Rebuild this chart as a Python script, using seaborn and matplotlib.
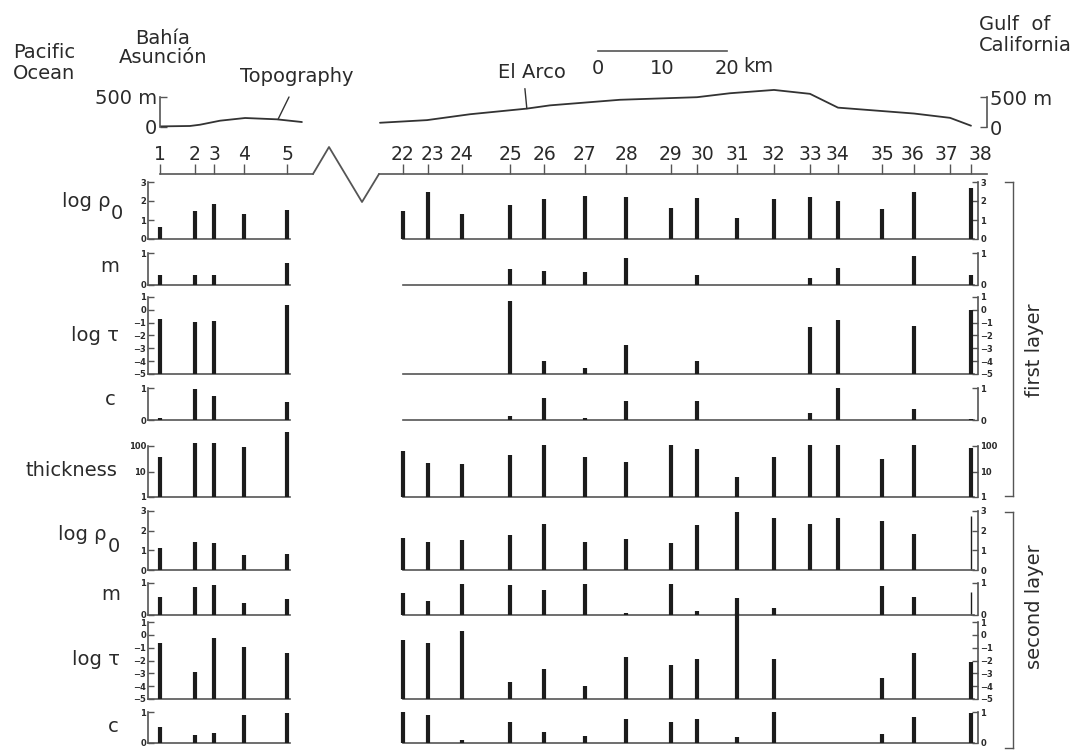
import numpy as np
import matplotlib
matplotlib.use("Agg")
import matplotlib.pyplot as plt
from matplotlib.lines import Line2D
from matplotlib.transforms import ScaledTranslation
import seaborn as sns

# ---------------- data ----------------
stations_L = ["1", "2", "3", "4", "5"]
dist_L = [0.0, 5.4, 8.4, 13.0, 19.7]          # km along profile (west segment)
stations_R = [str(i) for i in range(22, 39)]
dist_R = [0.0, 3.9, 9.1, 16.6, 21.9, 28.2, 34.6, 41.6, 45.6,
          51.8, 57.5, 63.1, 67.4, 74.3, 79.2, 84.8, 88.1]  # km (east segment)

nan = np.nan
# first layer
rho1_L = [0.63, 1.47, 1.84, 1.32, 1.53]
rho1_R = [1.47, 2.47, 1.32, 1.79, 2.10, 2.26, 2.20, 1.63, 2.16, 1.10, 2.10, 2.20, 2.00, 1.58, 2.47, nan, 2.68]
m1_L = [0.31, 0.31, 0.31, nan, 0.69]
m1_R = [nan, nan, nan, 0.50, 0.44, 0.40, 0.84, nan, 0.31, nan, nan, 0.22, 0.53, nan, 0.90, nan, 0.31]
tau1_L = [-0.71, -0.95, -0.87, nan, 0.38]
tau1_R = [nan, nan, nan, 0.69, -3.99, -4.50, -2.74, nan, -3.99, nan, nan, -1.34, -0.79, nan, -1.26, nan, -0.01]
c1_L = [0.06, 0.97, 0.75, nan, 0.56]
c1_R = [nan, nan, nan, 0.12, 0.69, 0.06, 0.60, nan, 0.60, nan, nan, 0.22, 1.00, nan, 0.34, nan, 0.04]
h1_L = [37, 131, 131, 91, 355]
h1_R = [63, 21, 20, 45, 110, 37, 24, 110, 76, 6, 37, 110, 110, 31, 110, nan, 83]
# second layer
rho2_L = [1.12, 1.42, 1.37, 0.76, 0.81]
rho2_R = [1.63, 1.42, 1.53, 1.78, 2.34, 1.42, 1.58, 1.37, 2.29, 2.95, 2.64, 2.34, 2.64, 2.49, 1.83, nan, nan]
m2_L = [0.56, 0.88, 0.94, 0.38, 0.50]
m2_R = [0.69, 0.44, 0.97, 0.94, 0.78, 0.97, 0.06, 0.97, 0.12, 0.53, 0.22, nan, nan, 0.90, 0.56, nan, nan]
tau2_L = [-0.64, -2.90, -0.25, -0.95, -1.42]
tau2_R = [-0.40, -0.64, 0.30, -3.68, -2.66, -3.99, -1.73, -2.35, -1.88, 1.70, -1.88, nan, nan, -3.37, -1.42, nan, -2.12]
c2_L = [0.52, 0.26, 0.32, 0.90, 0.97]
c2_R = [1.00, 0.90, 0.10, 0.68, 0.35, 0.23, 0.77, 0.68, 0.77, 0.20, 1.00, nan, nan, 0.29, 0.84, nan, 0.97]
# thin marks at station 38 (second layer)
thin38_rho2 = 2.75
thin38_m2 = 0.72

# topography (km, m)
topoL_km = [0.0, 4.65, 6.2, 9.3, 13.2, 18.1, 22.0]
topoL_m = [5, 12, 33, 100, 145, 123, 78]
topoR_km = [-3.57, 3.72, 10.39, 19.22, 22.79, 33.64, 45.58, 50.70, 57.52, 63.10, 67.44, 79.22, 84.81, 88.06]
topoR_m = [79, 123, 221, 315, 369, 462, 505, 571, 626, 561, 331, 233, 161, 30]

# ---------------- layout helpers ----------------
W, H = 1090, 750
PXKM = 6.45
INK = "#1c1c1c"
SPINE = "#555555"
TXT = "#2a2a2a"

sns.set_theme(style="white")
plt.rcParams["font.family"] = ["DejaVu Sans"]
plt.rcParams["axes.unicode_minus"] = True

fig = plt.figure(figsize=(W / 100, H / 100), dpi=100)


def box(x0, y0, x1, y1):
    return [x0 / W, 1 - y1 / H, (x1 - x0) / W, (y1 - y0) / H]


def ftext(x, y, s, **kw):
    kw.setdefault("color", TXT)
    kw.setdefault("fontsize", 14)
    return fig.text(x / W, 1 - y / H, s, **kw)


def new_ax(x0, y0, x1, y1):
    ax = fig.add_axes(box(x0, y0, x1, y1))
    ax.set_facecolor("none")
    for s in ax.spines.values():
        s.set_visible(False)
        s.set_color(SPINE)
        s.set_linewidth(1.2)
    ax.set_xticks([])
    ax.set_yticks([])
    return ax


def fmt(v):
    return ("\u2212" + str(abs(int(v)))) if v < 0 else str(int(v))


# ---------------- data rows ----------------
rows = [
    dict(L=rho1_L, R=rho1_R, ylim=(0, 3), ticks=[0, 1, 2, 3], top=182, bot=239),
    dict(L=m1_L, R=m1_R, ylim=(0, 1), ticks=[0, 1], top=253, bot=285),
    dict(L=tau1_L, R=tau1_R, ylim=(-5, 1), ticks=[1, 0, -1, -2, -3, -4, -5], top=297, bot=374),
    dict(L=c1_L, R=c1_R, ylim=(0, 1), ticks=[0, 1], top=388, bot=420),
    dict(L=h1_L, R=h1_R, ylim=(1, 100), ticks=[1, 10, 100], log=True, top=446, bot=497),
    dict(L=rho2_L, R=rho2_R, ylim=(0, 3), ticks=[0, 1, 2, 3], top=511, bot=570, thin=thin38_rho2),
    dict(L=m2_L, R=m2_R, ylim=(0, 1), ticks=[0, 1], top=583, bot=615, thin=thin38_m2),
    dict(L=tau2_L, R=tau2_R, ylim=(-5, 1), ticks=[1, 0, -1, -2, -3, -4, -5], top=622, bot=699),
    dict(L=c2_L, R=c2_R, ylim=(0, 1), ticks=[0, 1], top=712, bot=743),
]

xL0, xL1 = 148, 290
xR0, xR1 = 403, 974
for r in rows:
    for side in ("L", "R"):
        if side == "L":
            ax = new_ax(xL0, r["top"], xL1, r["bot"])
            ax.set_xlim((xL0 - 160) / PXKM, (xL1 - 160) / PXKM)
            xs, vals = dist_L, r["L"]
        else:
            ax = new_ax(xR0, r["top"], xR1, r["bot"])
            ax.set_xlim(0, (xR1 - xR0) / PXKM)
            xs, vals = dist_R, r["R"]
        if r.get("log"):
            ax.set_yscale("log")
        ax.set_ylim(*r["ylim"])
        base = r["ylim"][0]
        xs = np.asarray(xs)
        vals = np.asarray(vals, dtype=float)
        ok = np.isfinite(vals)
        ax.vlines(xs[ok], base, vals[ok], colors=INK, lw=3.0, clip_on=False,
                  capstyle="butt", zorder=3)
        if side == "R" and r.get("thin") is not None:
            ax.vlines([dist_R[-1]], base, [r["thin"]], colors=INK, lw=1.0, clip_on=False)
        ax.spines["bottom"].set_visible(True)
        spine = "left" if side == "L" else "right"
        ax.spines[spine].set_visible(True)
        if side == "R":
            ax.spines["right"].set_position(("outward", 3))
            ax.yaxis.tick_right()
        ax.set_yticks(r["ticks"])
        ax.set_yticklabels([fmt(t) for t in r["ticks"]])
        ax.yaxis.set_minor_locator(matplotlib.ticker.NullLocator())
        ax.tick_params(axis="y", which="both", direction="in", length=4, width=1,
                       color=SPINE, labelsize=6, pad=1.5, labelcolor=TXT,
                       left=(side == "L"), right=(side == "R"),
                       labelleft=(side == "L"), labelright=(side == "R"))
        for t in ax.get_yticklabels():
            t.set_fontweight("bold")

# ---------------- row labels ----------------
ftext(110, 207, "log \u03c1", ha="right", va="baseline")
ftext(111, 219, "0", ha="left", va="baseline")
ftext(119, 272, "m", ha="right", va="baseline")
ftext(119, 341, "log \u03c4", ha="right", va="baseline")
ftext(116, 405, "c", ha="right", va="baseline")
ftext(117, 476, "thickness", ha="right", va="baseline")
ftext(107, 540, "log \u03c1", ha="right", va="baseline")
ftext(108, 552, "0", ha="left", va="baseline")
ftext(120, 600, "m", ha="right", va="baseline")
ftext(120, 665, "log \u03c4", ha="right", va="baseline")
ftext(119, 732, "c", ha="right", va="baseline")

# layer brackets
for (y0, y1, lab, yc) in [(182, 496, "first layer", 350), (512, 748, "second layer", 607)]:
    b = new_ax(1005, y0, 1013, y1)
    for s in ("top", "bottom", "right"):
        b.spines[s].set_visible(True)
        b.spines[s].set_linewidth(1.0)
    ftext(1035, yc, lab, rotation=90, ha="center", va="center")

# ---------------- station axes ----------------
label_shift = {"23": 4, "29": -1, "30": 5, "36": -1, "37": -4, "38": 9}
for (x0, x1, xlo, xhi, xs, labs) in [
    (160, 313, 0.0, (313 - 160) / PXKM, dist_L, stations_L),
    (379, 987, (379 - 403) / PXKM, (987 - 403) / PXKM, dist_R, stations_R),
]:
    sa = new_ax(x0, 165, x1, 174)
    sa.set_xlim(xlo, xhi)
    sa.set_ylim(0, 1)
    sa.spines["bottom"].set_visible(True)
    sa.set_xticks(xs)
    sa.set_xticklabels(labs)
    sa.tick_params(axis="x", direction="in", length=7, width=1, color=SPINE,
                   bottom=True, top=False, labelbottom=False, labeltop=True,
                   labelsize=13.5, pad=1, labelcolor=TXT)
    for t in sa.get_xticklabels(which="major"):
        pass
    for tick, lab in zip(sa.xaxis.get_major_ticks(), labs):
        dx = label_shift.get(lab, 0)
        if dx:
            tick.label2.set_transform(tick.label2.get_transform() +
                                      ScaledTranslation(dx / 100, 0, fig.dpi_scale_trans))

# axis break (zig-zag) between the two station segments
zx = np.array([313, 329, 362, 379]) / W
zy = 1 - np.array([174, 147, 202, 174]) / H
fig.add_artist(Line2D(zx, zy, transform=fig.transFigure, color=SPINE, lw=1.3))

# ---------------- topography ----------------
ylo, yhi = -20, 700
pxm = 30.0 / 500
tL = new_ax(160, 126.7 - yhi * pxm, 313, 126.7 - ylo * pxm)
tL.set_xlim(0, (313 - 160) / PXKM)
tL.set_ylim(ylo, yhi)
sns.lineplot(x=topoL_km, y=topoL_m, ax=tL, color="#333333", lw=1.3)
tL.spines["left"].set_visible(True)
tL.spines["left"].set_bounds(0, 500)
tL.set_yticks([0, 500])
tL.set_yticklabels(["0", "500 m"])
tL.tick_params(axis="y", direction="in", length=5, width=1, color=SPINE,
               labelsize=14, pad=2, labelcolor=TXT, left=True)
tL.annotate("", xy=(18.3, 123), xytext=(20.0, 495),
            arrowprops=dict(arrowstyle="-", color="#333333", lw=1.0,
                            shrinkA=0, shrinkB=0))

tR = new_ax(378, 127.5 - yhi * pxm, 987, 127.5 - ylo * pxm)
tR.set_xlim((378 - 403) / PXKM, (987 - 403) / PXKM)
tR.set_ylim(ylo, yhi)
sns.lineplot(x=topoR_km, y=topoR_m, ax=tR, color="#333333", lw=1.3)
tR.spines["right"].set_visible(True)
tR.spines["right"].set_bounds(0, 500)
tR.yaxis.tick_right()
tR.set_yticks([0, 500])
tR.set_yticklabels(["0", "500 m"])
tR.tick_params(axis="y", direction="in", length=5, width=1, color=SPINE,
               labelsize=14, pad=2, labelcolor=TXT, right=True, left=False,
               labelright=True, labelleft=False)
tR.annotate("", xy=(19.2, 315), xytext=(18.9, 648),
            arrowprops=dict(arrowstyle="-", color="#333333", lw=1.0,
                            shrinkA=0, shrinkB=0))

# scale bar
sb = new_ax(598, 40, 727, 50.5)
sb.set_xlim(0, 20)
sb.spines["bottom"].set_visible(True)
sb.set_xticks([0, 5, 10, 15, 20])
sb.set_xticklabels(["0", "", "10", "", "20"])
sb.tick_params(axis="x", direction="in", length=6, width=1, color=SPINE,
               labelsize=14, pad=6, labelcolor=TXT)
ftext(743, 66, "km", ha="left", va="center")

# ---------------- titles ----------------
ftext(13, 63, "Pacific\nOcean", ha="left", va="center", linespacing=1.15)
ftext(163, 48, "Bah\u00eda\nAsunci\u00f3n", ha="center", va="center", linespacing=0.95)
ftext(240, 77, "Topography", ha="left", va="center")
ftext(532, 73, "El Arco", ha="center", va="center")
ftext(979, 35, "Gulf  of\nCalifornia", ha="left", va="center", linespacing=1.15)

fig.savefig("out.png", dpi=100)
